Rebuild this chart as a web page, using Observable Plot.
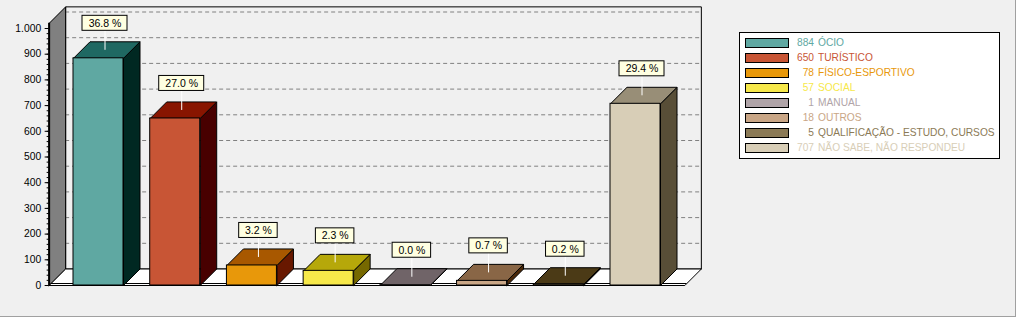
<!DOCTYPE html>
<html><head><meta charset="utf-8">
<script src="https://cdn.jsdelivr.net/npm/d3@7"></script>
<script src="https://cdn.jsdelivr.net/npm/@observablehq/plot@0.6"></script>
<style>
html,body{margin:0;padding:0;background:#f0f0f0;}
#wrap{position:relative;width:1016px;height:317px;overflow:hidden;font-family:"Liberation Sans",Arial,sans-serif;}
#wrap svg{position:absolute;left:0;top:0;}
.edge{position:absolute;background:#a0a0a0;}
#legend{position:absolute;left:739px;top:32px;width:261px;height:127px;box-sizing:border-box;background:#fff;border:1px solid #000;}
.sw{position:absolute;left:5px;width:44px;height:10px;box-sizing:border-box;border:1px solid #000;}
.num{position:absolute;left:34px;width:40px;text-align:right;height:15px;line-height:15px;font-size:10.2px;white-space:nowrap;}
.lab{position:absolute;left:78px;height:15px;line-height:15px;font-size:10.2px;white-space:nowrap;}
</style></head>
<body>
<div id="wrap"></div>
<script>
// ---- data ----
const categories = ["ÓCIO","TURÍSTICO","FÍSICO-ESPORTIVO","SOCIAL","MANUAL","OUTROS","QUALIFICAÇÃO - ESTUDO, CURSOS","NÃO SABE, NÃO RESPONDEU"];
const counts = [884,650,78,57,1,18,5,707];
const percentLabels = ["36.8 %","27.0 %","3.2 %","2.3 %","0.0 %","0.7 %","0.2 %","29.4 %"];
const yTickValues = [0,100,200,300,400,500,600,700,800,900,1000];
const yTickLabels = ["0","100","200","300","400","500","600","700","800","900","1.000"];
const palette = ["#5fa8a2","#c85535","#e8980a","#f6e84a","#b0a4a8","#c9a686","#8b7a56","#d8ceb7"];

// ---- geometry helpers (pixel sizes converted to data units) ----
const W = 1016, H = 317;
const n = categories.length;
const xRange = [98, 635], yRange = [285, 28];
const ux = (xRange[1] - xRange[0]) / (n - 1);
const uy = (yRange[0] - yRange[1]) / 1000;
const px2x = p => p / ux, px2y = p => p / uy;
const depth = 16.5;
const ddx = px2x(depth), ddy = px2y(depth);
const hw = px2x(25);
const xmin = -0.5 - px2x(11), xmax = n - 0.5 + px2x(11);
const yTop = yTickValues[yTickValues.length - 1] + 20;
const shade = (c, k) => { const r = d3.rgb(c); return d3.rgb(Math.max(0, r.r - k), Math.max(0, r.g - k), Math.max(0, r.b - k)).formatHex(); };

const bars = categories.map((c, i) => {
  const v = counts[i];
  const lx = i + px2x(6.5);
  const bw = px2x(6.5 * percentLabels[i].length + 6);
  const b0 = v + px2y(27.5), b1 = v + px2y(42.5);
  return {i, c, v, front: palette[i], top: shade(palette[i], 64), side: shade(palette[i], 128),
    label: percentLabels[i], lx, bx1: lx - bw / 2, bx2: lx + bw / 2, by1: b0, by2: b1, ly1: v + px2y(8)};
});

function poly(id, pts, fill) {
  const a = pts.map(([x, y]) => ({id, x, y, fill}));
  a.push({...a[0]});
  return a;
}
const backWall = poly("back", [[xmin + ddx, ddy], [xmin + ddx, yTop + ddy], [xmax + ddx, yTop + ddy], [xmax + ddx, ddy]], "#f0f0f0");
const leftWall = poly("left", [[xmin, 0], [xmin, yTop], [xmin + ddx, yTop + ddy], [xmin + ddx, ddy]], "#808080");
const floor = poly("floor", [[xmin, 0], [xmax, 0], [xmax + ddx, ddy], [xmin + ddx, ddy]], "#ffffff");
const tops = bars.flatMap(b => poly("t" + b.i, [[b.i - hw, b.v], [b.i + hw, b.v], [b.i + hw + ddx, b.v + ddy], [b.i - hw + ddx, b.v + ddy]], b.top));
const sides = bars.flatMap(b => poly("s" + b.i, [[b.i + hw, 0], [b.i + hw, b.v], [b.i + hw + ddx, b.v + ddy], [b.i + hw + ddx, ddy]], b.side));
const minorTicks = d3.range(0, yTickValues[yTickValues.length - 1] + 1, 20);

const polyOpts = {x: "x", y: "y", z: "id", fill: "fill", stroke: "#000", strokeWidth: 1, strokeLinejoin: "miter", strokeLinecap: "square"};

const chart = Plot.plot({
  width: W, height: H,
  marginLeft: 0, marginRight: 0, marginTop: 0, marginBottom: 0,
  style: {background: "transparent", fontFamily: "'Liberation Sans', Arial, sans-serif"},
  x: {type: "linear", domain: [0, n - 1], range: xRange, axis: null},
  y: {type: "linear", domain: [0, 1000], range: yRange, axis: null},
  color: {type: "identity"},
  marks: [
    Plot.line(backWall, polyOpts),
    Plot.ruleY(yTickValues.filter(v => v > 0), {y: v => v + ddy, x1: xmin + ddx, x2: xmax + ddx, stroke: "#808080", strokeDasharray: "4,3"}),
    Plot.line(leftWall, polyOpts),
    Plot.line(floor, polyOpts),
    Plot.ruleY([px2y(2)], {x1: xmin + px2x(2), x2: xmax + px2x(2), stroke: "#000"}),
    Plot.line(sides, polyOpts),
    Plot.line(tops, polyOpts),
    Plot.rect(bars, {x1: b => b.i - hw, x2: b => b.i + hw, y1: 0, y2: "v", fill: "front", stroke: "#000"}),
    Plot.ruleX([xmin], {y1: 0, y2: yTop, stroke: "#000", strokeWidth: 2}),
    Plot.ruleY(minorTicks, {x1: xmin - px2x(2), x2: xmin, stroke: "#000"}),
    Plot.ruleY(yTickValues, {x1: xmin - px2x(4), x2: xmin, stroke: "#000"}),
    Plot.text(yTickValues, {x: xmin, y: d => d, text: (d, i) => yTickLabels[i], dx: -8, textAnchor: "end", fontSize: 10.3, fill: "#000"}),
    Plot.ruleX(bars, {x: "lx", y1: "ly1", y2: "by1", stroke: "#fff"}),
    Plot.rect(bars, {x1: "bx1", x2: "bx2", y1: "by1", y2: "by2", fill: "#ffffe1", stroke: "#000"}),
    Plot.text(bars, {x: "lx", y: b => (b.by1 + b.by2) / 2, text: "label", fontSize: 10.5, fill: "#000"})
  ]
});

const wrap = document.getElementById("wrap");
wrap.appendChild(chart);

// border edges
const er = document.createElement("div"); er.className = "edge"; er.style.cssText = "left:1015px;top:0;width:1px;height:317px;"; wrap.appendChild(er);
const eb = document.createElement("div"); eb.className = "edge"; eb.style.cssText = "left:0;top:316px;width:1016px;height:1px;"; wrap.appendChild(eb);

// legend
const leg = document.createElement("div"); leg.id = "legend";
categories.forEach((c, i) => {
  const sw = document.createElement("div"); sw.className = "sw";
  sw.style.top = (5 + 15 * i) + "px"; sw.style.background = palette[i]; leg.appendChild(sw);
  const nu = document.createElement("div"); nu.className = "num";
  nu.style.top = (2 + 15 * i) + "px"; nu.style.color = palette[i]; nu.textContent = counts[i]; leg.appendChild(nu);
  const la = document.createElement("div"); la.className = "lab";
  la.style.top = (2 + 15 * i) + "px"; la.style.color = palette[i]; la.textContent = c; leg.appendChild(la);
});
wrap.appendChild(leg);
</script>
</body></html>
